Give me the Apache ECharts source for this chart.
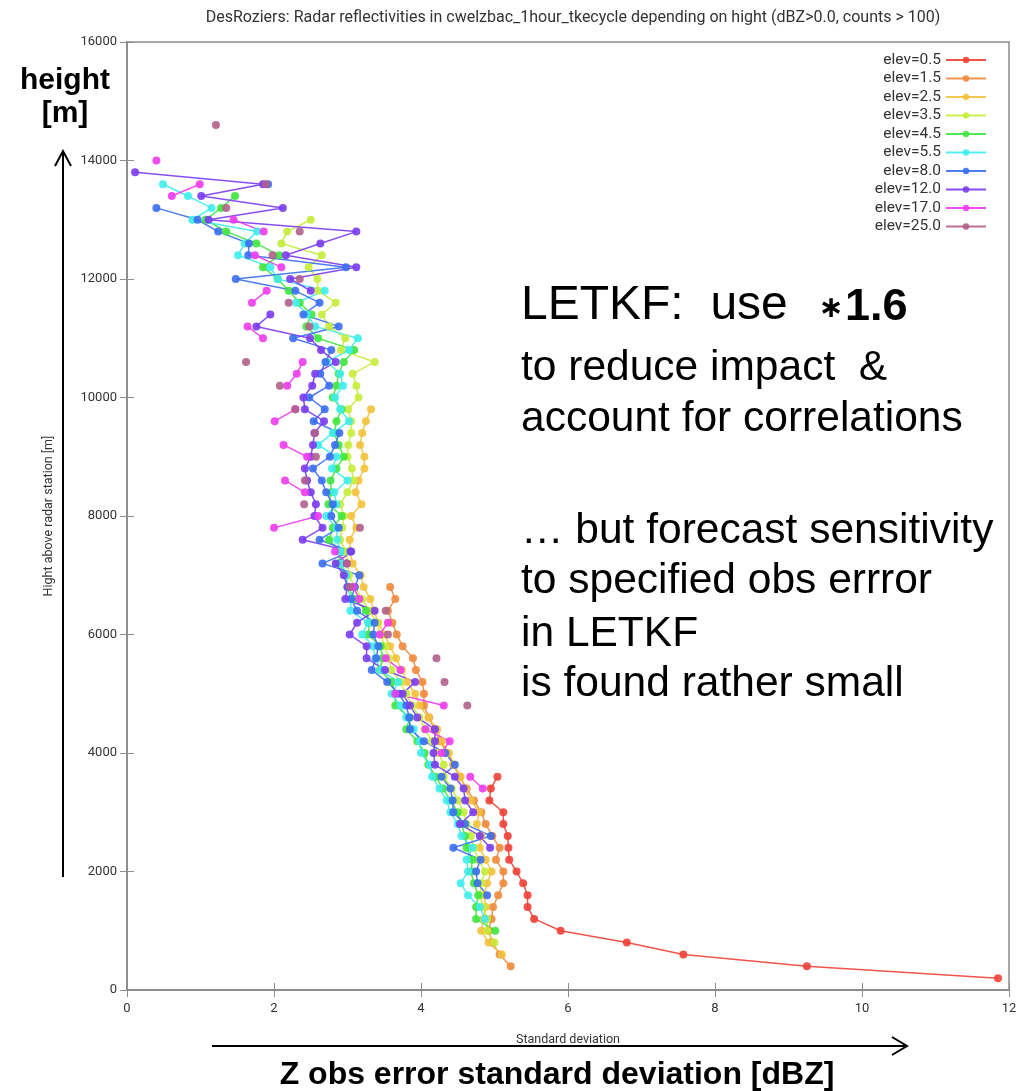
<!DOCTYPE html>
<html><head><meta charset="utf-8">
<script src="https://cdn.jsdelivr.net/npm/echarts@6/dist/echarts.min.js"></script>
<style>html,body{margin:0;padding:0;background:#fff}#c{width:1021px;height:1091px}</style>
</head><body><div id="c"></div>
<script>
// Height levels [m] (y values)
const heightLevels = [200,400,600,800,1000,1200,1400,1600,1800,2000,2200,2400,2600,2800,3000,3200,3400,3600,3800,4000,
  4200,4400,4600,4800,5000,5200,5400,5600,5800,6000,6200,6400,6600,6800,7000,7200,7400,7600,7800,8000,
  8200,8400,8600,8800,9000,9200,9400,9600,9800,10000,10200,10400,10600,10800,11000,11200,11400,11600,11800,12000,
  12200,12400,12600,12800,13000,13200,13400,13600,13800,14000,14200,14400,14600];

const elevNames = ['elev=0.5','elev=1.5','elev=2.5','elev=3.5','elev=4.5','elev=5.5','elev=8.0','elev=12.0','elev=17.0','elev=25.0'];
const elevColors = ['#ef4137','#f08a3c','#f3c23c','#c6ec3c','#3fe63f','#40ecec','#3b6ef0','#7a3cf0','#ee3cee','#b0608c'];

// Standard deviation [dBZ] per height level (index-aligned with heightLevels; null = no data)
const elev05 = [11.85,9.25,7.57,6.80,5.90,5.54,5.45,5.45,5.39,5.30,5.20,5.19,5.18,5.12,5.12,4.93,4.95,5.04];
const elev15 = [null,5.22,5.07,4.97,4.92,4.96,4.98,5.05,5.12,5.12,
  5.02,5.07,4.97,4.88,4.82,4.72,4.62,4.53,4.44,4.35,
  4.26,4.18,4.11,4.04,4.04,4.02,3.93,3.89,3.75,3.67,
  3.61,3.55,3.65,3.58];
const elev25 = [null,null,5.10,4.92,4.82,4.85,4.88,4.86,4.90,4.96,
  4.88,4.80,4.82,4.76,4.79,4.68,4.60,4.54,4.45,4.38,
  4.28,4.22,4.10,3.98,3.92,3.81,3.74,3.66,3.58,3.50,
  3.42,3.36,3.31,3.22,3.18,3.07,3.03,3.03,3.12,3.05,
  3.19,3.11,3.15,3.23,3.23,3.17,3.20,3.25,3.32];
const elev35 = [null,null,null,5.00,4.90,4.90,4.85,4.80,4.82,4.87,
  4.78,4.72,4.68,4.62,4.58,4.50,4.42,4.31,4.31,4.24,
  4.15,4.05,3.98,3.88,3.80,3.72,3.60,3.56,3.51,3.45,
  3.40,3.30,3.20,3.10,3.02,3.00,2.98,2.90,2.93,2.95,
  2.90,3.00,3.08,3.06,3.00,3.01,3.05,3.05,3.01,3.15,
  3.12,3.07,3.37,2.91,2.97,2.75,2.65,2.84,2.60,2.59,
  2.47,2.65,2.10,2.18,2.50];
const elev45 = [null,null,null,null,5.01,4.75,4.75,4.78,4.72,4.68,
  4.70,4.62,4.60,4.55,4.50,4.40,4.30,4.20,4.10,4.05,
  3.95,3.80,3.85,3.65,3.65,3.60,3.44,3.48,3.45,3.28,
  3.30,3.25,3.10,3.00,2.98,2.88,2.90,2.75,2.80,2.92,
  2.74,2.78,2.77,2.85,2.95,2.88,2.82,2.85,2.92,2.80,
  2.85,2.88,2.95,3.09,2.60,2.44,2.51,2.35,2.20,2.05,
  1.85,2.07,1.76,1.35,1.07,1.28,1.47];
const elev55 = [null,null,null,null,null,4.87,4.80,4.64,4.54,4.64,
  4.62,4.70,4.55,4.50,4.40,4.35,4.25,4.15,4.12,4.00,
  3.98,3.90,3.80,3.72,3.60,3.69,3.45,3.38,3.35,3.20,
  3.28,3.04,3.05,3.00,2.98,2.92,2.90,2.86,2.85,2.71,
  2.85,2.82,3.00,2.79,2.85,2.60,2.80,3.02,2.90,2.83,
  2.94,2.90,2.72,3.02,3.14,2.56,2.45,2.30,2.69,2.05,
  1.95,1.51,1.60,1.77,0.89,1.15,0.83,0.49];
const elev80 = [null,null,null,null,null,null,null,4.90,4.77,4.75,
  4.81,4.44,4.95,4.60,4.44,4.43,4.40,4.28,4.46,4.33,
  4.04,3.85,3.84,3.80,3.70,3.54,3.33,3.39,3.42,3.35,
  3.37,3.13,3.05,3.10,3.16,2.66,3.04,2.62,2.88,2.78,
  2.80,2.71,2.65,2.53,2.76,2.83,2.89,2.54,2.69,2.48,
  2.75,2.63,2.70,2.78,2.26,2.88,2.40,2.62,2.29,1.48,
  2.98,1.65,1.66,1.24,0.96,0.40,null,1.92];
const elev120 = [null,null,null,null,null,null,null,null,null,null,
  null,4.94,4.80,4.53,4.71,4.60,4.58,4.46,4.19,4.17,
  4.19,4.19,3.95,3.85,3.75,3.92,3.51,3.26,3.26,3.03,
  3.13,3.37,2.97,3.00,2.95,2.84,3.05,2.39,2.66,2.55,
  2.57,2.50,2.45,2.42,2.50,2.53,2.55,2.68,2.42,2.40,
  2.52,2.56,2.84,2.64,2.49,1.76,1.95,null,2.50,2.22,
  3.12,2.16,2.63,3.12,1.11,2.12,1.01,1.85,0.11];
const elev170 = [null,null,null,null,null,null,null,null,null,null,
  null,null,null,null,null,null,4.84,4.67,null,4.28,
  4.39,4.06,null,4.31,3.65,null,3.72,3.52,null,3.44,
  3.55,null,3.16,3.08,null,2.99,2.83,null,2.00,2.60,
  null,2.42,2.15,null,2.45,2.13,null,2.01,2.29,null,
  2.18,2.31,2.39,null,1.85,1.64,null,1.70,1.90,null,
  2.10,1.74,null,1.86,1.45,null,0.61,0.99,null,0.40];
const elev250 = [null,null,null,null,null,null,null,null,null,null,
  null,null,null,null,null,null,null,null,null,null,
  null,null,null,4.63,null,4.32,null,4.21,null,3.55,
  null,3.52,null,3.03,null,2.99,null,null,3.17,null,
  2.41,null,2.42,null,2.57,null,2.56,null,2.29,null,
  2.08,null,1.62,null,null,2.48,null,2.20,null,2.35,
  null,1.98,null,2.35,null,1.35,null,1.89,null,null,
  null,null,1.21];

const xTicks = [0,2,4,6,8,10,12];
const yTicks = [0,2000,4000,6000,8000,10000,12000,14000,16000];

const allValues = [elev05,elev15,elev25,elev35,elev45,elev55,elev80,elev120,elev170,elev250];

const chart = echarts.init(document.getElementById('c'), null, {renderer:'canvas'});

const series = allValues.map((vals, k) => ({
  name: elevNames[k],
  type: 'line',
  xAxisIndex: 0, yAxisIndex: 0,
  data: vals.map((v, i) => v == null ? ['-', heightLevels[i]] : [v, heightLevels[i]]),
  symbol: 'circle', symbolSize: 8, showSymbol: true, showAllSymbol: true,
  connectNulls: false,
  color: elevColors[k],
  lineStyle: {width: 1.5, color: elevColors[k], opacity: 0.9},
  itemStyle: {color: elevColors[k], opacity: 0.9},
  emphasis: {disabled: true},
  animation: false
}));

const axisGrey = '#8c8c8c';
const tickFont = {fontFamily: 'Roboto', fontSize: 13, color: '#333'};
const noteFont = '"Liberation Sans", Arial, sans-serif';

const option = {
  backgroundColor: '#fff',
  animation: false,
  title: {
    text: 'DesRoziers: Radar reflectivities in cwelzbac_1hour_tkecycle depending on hight (dBZ>0.0, counts > 100)',
    left: 568, top: 5, textAlign: 'center',
    textStyle: {fontFamily: 'Roboto', fontSize: 16, fontWeight: 'normal', color: '#333'}
  },
  grid: {left: 127, right: 12, top: 42, bottom: 101, show: true, borderColor: axisGrey, borderWidth: 1.5, containLabel: false},
  legend: {
    orient: 'vertical', right: 29, top: 47, align: 'right',
    itemWidth: 40, itemHeight: 8, itemGap: 2.5,
    data: elevNames,
    formatter: n => '{t|' + n + '}',
    textStyle: {fontFamily: 'Roboto', fontSize: 15.5, color: '#333', lineHeight: 14,
      rich: {t: {width: 68, height: 14, align: 'right', fontFamily: 'Roboto', fontSize: 15.5, color: '#333', lineHeight: 14}}},
    selectedMode: false
  },
  xAxis: [{
    type: 'value', min: 0, max: 12, interval: 2, position: 'bottom',
    name: 'Standard deviation', nameLocation: 'middle', nameGap: 43,
    nameTextStyle: {fontFamily: 'Roboto', fontSize: 12.5, color: '#333'},
    axisLine: {show: true, lineStyle: {color: axisGrey, width: 1.5}},
    axisTick: {show: true, inside: true, length: 7, lineStyle: {color: axisGrey}},
    axisLabel: Object.assign({margin: 12, formatter: v => xTicks.includes(v) ? String(v) : ''}, tickFont),
    splitLine: {show: false}
  }, {
    type: 'value', min: 0, max: 12, interval: 2, position: 'top',
    axisLine: {show: true, lineStyle: {color: axisGrey, width: 1.5}},
    axisTick: {show: true, inside: true, length: 7, lineStyle: {color: axisGrey}},
    axisLabel: {show: false}, splitLine: {show: false}
  }],
  yAxis: [{
    type: 'value', min: 0, max: 16000, interval: 2000, position: 'left',
    name: 'Hight above radar station [m]', nameLocation: 'middle', nameGap: 72, nameRotate: 90,
    nameTextStyle: {fontFamily: 'Roboto', fontSize: 12.5, color: '#333'},
    axisLine: {show: true, lineStyle: {color: axisGrey, width: 1.5}},
    axisTick: {show: true, inside: true, length: 7, lineStyle: {color: axisGrey}},
    axisLabel: Object.assign({margin: 10, formatter: v => yTicks.includes(v) ? String(v) : ''}, tickFont),
    splitLine: {show: false}
  }, {
    type: 'value', min: 0, max: 16000, interval: 2000, position: 'right',
    axisLine: {show: true, lineStyle: {color: axisGrey, width: 1.5}},
    axisTick: {show: true, inside: true, length: 7, lineStyle: {color: axisGrey}},
    axisLabel: {show: false}, splitLine: {show: false}
  }],
  series: series,
  graphic: [
    // annotation block
    {type: 'text', left: 521, top: 282, z: 100, style: {text: 'LETKF:  use', font: '48px ' + noteFont, fill: '#000'}},
    {type: 'text', x: 831, y: 309, z: 100, style: {text: '∗', font: 'bold 30px "DejaVu Sans", sans-serif', fill: '#000', align: 'center', verticalAlign: 'middle'}},
    {type: 'text', left: 845, top: 285, z: 100, style: {text: '1.6', font: 'bold 45px ' + noteFont, fill: '#000'}},
    {type: 'text', left: 521, top: 347, z: 100, style: {text: 'to reduce impact  &', font: '42.5px ' + noteFont, fill: '#000'}},
    {type: 'text', left: 521, top: 398, z: 100, style: {text: 'account for correlations', font: '42.5px ' + noteFont, fill: '#000'}},
    {type: 'text', left: 521, top: 510, z: 100, style: {text: '… but forecast sensitivity', font: '42.5px ' + noteFont, fill: '#000'}},
    {type: 'text', left: 521, top: 560, z: 100, style: {text: 'to specified obs errror', font: '42.5px ' + noteFont, fill: '#000'}},
    {type: 'text', left: 521, top: 613, z: 100, style: {text: 'in LETKF', font: '42.5px ' + noteFont, fill: '#000'}},
    {type: 'text', left: 521, top: 663, z: 100, style: {text: 'is found rather small', font: '42.5px ' + noteFont, fill: '#000'}},
    // left annotation
    {type: 'text', x: 65, y: 81, z: 100, style: {text: 'height', font: 'bold 30px ' + noteFont, fill: '#000', align: 'center', verticalAlign: 'middle'}},
    {type: 'text', x: 65, y: 114, z: 100, style: {text: '[m]', font: 'bold 30px ' + noteFont, fill: '#000', align: 'center', verticalAlign: 'middle'}},
    {type: 'line', z: 100, shape: {x1: 63, y1: 877, x2: 63, y2: 151}, style: {stroke: '#000', lineWidth: 2}},
    {type: 'polyline', z: 100, shape: {points: [[55, 166], [63, 151], [71, 166]]}, style: {stroke: '#000', lineWidth: 2, fill: null}},
    // bottom annotation
    {type: 'line', z: 100, shape: {x1: 212, y1: 1046, x2: 907, y2: 1046}, style: {stroke: '#000', lineWidth: 2}},
    {type: 'polyline', z: 100, shape: {points: [[892, 1037], [907, 1046], [892, 1055]]}, style: {stroke: '#000', lineWidth: 2, fill: null}},
    {type: 'text', x: 557, y: 1075, z: 100, style: {text: 'Z obs error standard deviation [dBZ]', font: 'bold 32px ' + noteFont, fill: '#000', align: 'center', verticalAlign: 'middle'}}
  ]
};
chart.setOption(option);
</script>
</body></html>
